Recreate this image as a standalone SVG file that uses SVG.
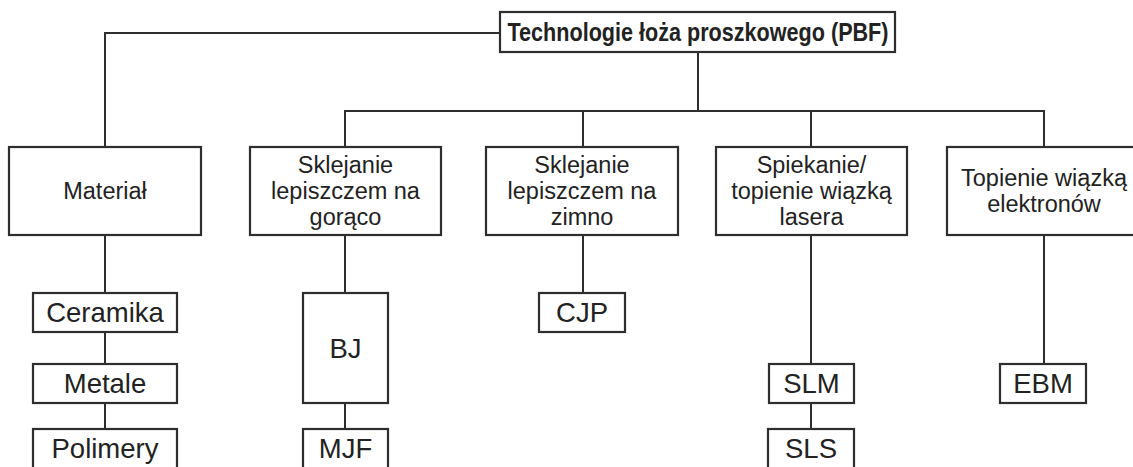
<svg xmlns="http://www.w3.org/2000/svg" width="1133" height="467" viewBox="0 0 1133 467">
<style>
.box{fill:#fff;stroke:#2e2e2e;stroke-width:2.2}
.ln{fill:none;stroke:#2e2e2e;stroke-width:2}
text{font-family:"Liberation Sans",Arial,Helvetica,sans-serif;fill:#222;text-anchor:middle}
.t2{font-size:23.5px}
.t3{font-size:27.5px}
.t1{font-size:25px;font-weight:bold}
</style>
<rect width="1133" height="467" fill="#fff"/>
<g id="connectors">
<path class="ln" d="M105,147 V33 H500"/>
<path class="ln" d="M698,52 V111"/>
<path class="ln" d="M345,147 V111 H1044 V147"/>
<path class="ln" d="M583,111 V147"/>
<path class="ln" d="M811,111 V147"/>
<path class="ln" d="M105,235 V293 M105,332 V364 M105,403 V429"/>
<path class="ln" d="M345,235 V293 M345,403 V429"/>
<path class="ln" d="M583,235 V293"/>
<path class="ln" d="M811,235 V364 M811,403 V429"/>
<path class="ln" d="M1044,235 V364"/>
</g>
<g id="root"><rect class="box" x="500" y="12" width="395" height="40"/><text class="t1" x="698" y="41" textLength="381" lengthAdjust="spacingAndGlyphs">Technologie łoża proszkowego (PBF)</text></g>
<g id="material"><rect class="box" x="9" y="147" width="192" height="88"/><text class="t2" x="105" y="199">Materiał</text></g>
<g id="hot"><rect class="box" x="250" y="147" width="191" height="88"/><text class="t2" x="345.5" y="173">Sklejanie</text><text class="t2" x="345.5" y="199">lepiszczem na</text><text class="t2" x="345.5" y="225">gorąco</text></g>
<g id="cold"><rect class="box" x="486" y="147" width="192" height="88"/><text class="t2" x="582" y="173">Sklejanie</text><text class="t2" x="582" y="199">lepiszczem na</text><text class="t2" x="582" y="225">zimno</text></g>
<g id="laser"><rect class="box" x="716" y="147" width="191" height="88"/><text class="t2" x="811.5" y="173">Spiekanie/</text><text class="t2" x="811.5" y="199">topienie wiązką</text><text class="t2" x="811.5" y="225">lasera</text></g>
<g id="electron"><rect class="box" x="947" y="147" width="195" height="88"/><text class="t2" x="1044" y="186">Topienie wiązką</text><text class="t2" x="1044" y="212">elektronów</text></g>
<g id="ceramika"><rect class="box" x="33" y="293" width="144" height="39"/><text class="t3" x="105" y="322">Ceramika</text></g>
<g id="metale"><rect class="box" x="33" y="364" width="144" height="39"/><text class="t3" x="105" y="393">Metale</text></g>
<g id="polimery"><rect class="box" x="33" y="429" width="144" height="50"/><text class="t3" x="105" y="458">Polimery</text></g>
<g id="bj"><rect class="box" x="303" y="293" width="85" height="110"/><text class="t3" x="345.5" y="358">BJ</text></g>
<g id="mjf"><rect class="box" x="303" y="429" width="85" height="50"/><text class="t3" x="345.5" y="458">MJF</text></g>
<g id="cjp"><rect class="box" x="539" y="293" width="86" height="39"/><text class="t3" x="582" y="322">CJP</text></g>
<g id="slm"><rect class="box" x="769" y="364" width="85" height="39"/><text class="t3" x="811.5" y="393">SLM</text></g>
<g id="sls"><rect class="box" x="768" y="429" width="86" height="50"/><text class="t3" x="811" y="458">SLS</text></g>
<g id="ebm"><rect class="box" x="1000" y="364" width="86" height="39"/><text class="t3" x="1043" y="393">EBM</text></g>
</svg>
